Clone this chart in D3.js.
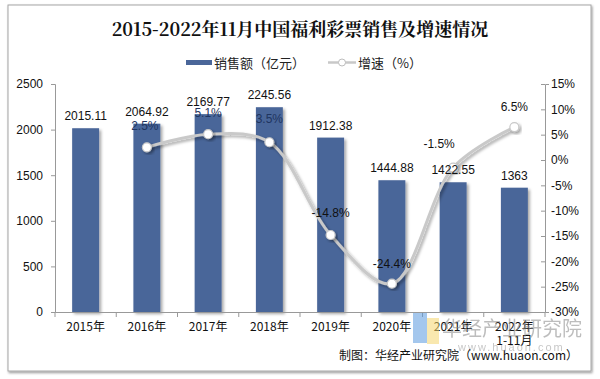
<!DOCTYPE html>
<html><head><meta charset="utf-8">
<script src="https://cdn.jsdelivr.net/npm/d3@7"></script>
<style>body{margin:0;background:#fff}svg{display:block}</style>
</head><body>
<svg id="c" width="600" height="379"></svg>
<script>
const categories = ["2015年","2016年","2017年","2018年","2019年","2020年","2021年","2022年\n1-11月"];
const sales = [2015.11,2064.92,2169.77,2245.56,1912.38,1444.88,1422.55,1363];
const growth = [null,2.5,5.1,3.5,-14.8,-24.4,-1.5,6.5];
const leftTicks = [0,500,1000,1500,2000,2500];
const rightTicks = [15,10,5,0,-5,-10,-15,-20,-25,-30];

const svg = d3.select("#c");
const defs = svg.append("defs");
const sh = defs.append("filter").attr("id","sh").attr("x","-20%").attr("y","-20%").attr("width","150%").attr("height","150%");
sh.append("feDropShadow").attr("dx",2).attr("dy",2).attr("stdDeviation",1.5).attr("flood-color","#000").attr("flood-opacity",0.35);
const fsh = defs.append("filter").attr("id","fsh").attr("x","-5%").attr("y","-5%").attr("width","110%").attr("height","110%");
fsh.append("feDropShadow").attr("dx",1).attr("dy",1.5).attr("stdDeviation",1.2).attr("flood-color","#000").attr("flood-opacity",0.4);

// frame
svg.append("rect").attr("x",8).attr("y",5).attr("width",583).attr("height",366)
  .attr("fill","#fff").attr("stroke","#a6a6a6").attr("stroke-width",1).attr("filter","url(#fsh)");

const L = 55, R = 545, T = 84, B = 312;
const x = d3.scaleBand().domain(categories).range([L,R]).paddingInner(0.56).paddingOuter(0.28);
const xb = d3.scaleBand().domain(categories).range([L,R]);
const y = d3.scaleLinear().domain([0,2500]).range([B,T]);
const y2 = d3.scaleLinear().domain([-30,15]).range([B,T]);

const font = "Arial, 'Liberation Sans', sans-serif";

// title
svg.append("text").attr("x",300).attr("y",36).attr("text-anchor","middle")
  .attr("font-family","'Noto Serif CJK SC','Noto Sans CJK SC',serif").attr("font-weight","bold").attr("font-size",18).attr("fill","#111")
  .text("2015-2022年11月中国福利彩票销售及增速情况");

// legend
const lg = svg.append("g").attr("font-family","'Noto Sans CJK SC',sans-serif").attr("font-size",13).attr("fill","#222");
lg.append("rect").attr("x",186).attr("y",60).attr("width",26).attr("height",5).attr("fill","#4a6699");
lg.append("text").attr("x",214).attr("y",68).text("销售额（亿元）");
lg.append("line").attr("x1",328).attr("x2",356).attr("y1",62.5).attr("y2",62.5).attr("stroke","#c8c8c8").attr("stroke-width",2.5);
lg.append("circle").attr("cx",342).attr("cy",62.5).attr("r",3.5).attr("fill","#fff").attr("stroke","#bdbdbd");
lg.append("text").attr("x",358).attr("y",68).text("增速（%）");

// bars
svg.append("g").selectAll("rect").data(sales).join("rect")
  .attr("x",(d,i)=>x(categories[i])).attr("width",x.bandwidth())
  .attr("y",d=>y(d)).attr("height",d=>B-y(d)).attr("fill","#4a6699").attr("filter","url(#sh)");

// axes
const axL = svg.append("g").attr("transform",`translate(${L},0)`).call(d3.axisLeft(y).tickValues(leftTicks).tickSize(4).tickPadding(8).tickFormat(d3.format("d")));
const axR = svg.append("g").attr("transform",`translate(${R},0)`).call(d3.axisRight(y2).tickValues(rightTicks).tickSize(4).tickPadding(5).tickFormat(d=>d+"%"));
const axB = svg.append("g").attr("transform",`translate(0,${B})`).call(d3.axisBottom(xb).tickSize(0).tickFormat(""));
[axL,axR,axB].forEach(a=>{
  a.selectAll("path").attr("stroke","#999");
  a.selectAll("line").attr("stroke","#999");
  a.selectAll("text").attr("font-family",font).attr("font-size",12).attr("fill","#111");
});
axR.selectAll(".tick line").attr("x2",-4);
axR.selectAll(".tick text").attr("x",6);
// x ticks at band boundaries
svg.append("g").selectAll("line").data(d3.range(categories.length+1)).join("line")
  .attr("x1",i=>L+i*xb.step()).attr("x2",i=>L+i*xb.step()).attr("y1",B).attr("y2",B+5).attr("stroke","#999");

// x labels
const xl = svg.append("g").attr("font-family","'Noto Sans CJK SC',sans-serif").attr("font-size",12).attr("fill","#111");
categories.forEach(c=>{
  const parts = c.split("\n");
  const t = xl.append("text").attr("x",xb(c)+xb.bandwidth()/2).attr("y",331).attr("text-anchor","middle");
  parts.forEach((p,k)=>t.append("tspan").attr("x",xb(c)+xb.bandwidth()/2).attr("dy",k?14:0).text(p));
});

// line
const pts = growth.map((g,i)=>g===null?null:[xb(categories[i])+xb.bandwidth()/2, y2(g), g]).filter(Boolean);
svg.append("path").attr("d",d3.line().curve(d3.curveCatmullRom.alpha(0.5))(pts.map(p=>[p[0],p[1]])))
  .attr("fill","none").attr("stroke","#c9c9c9").attr("stroke-width",3).attr("filter","url(#sh)");
svg.append("g").selectAll("circle").data(pts).join("circle")
  .attr("cx",d=>d[0]).attr("cy",d=>d[1]).attr("r",4.5).attr("fill","#fff").attr("stroke","#c9c9c9").attr("stroke-width",1.2).attr("filter","url(#sh)");
const lblOff = {"2.5":[-2,-17],"5.1":[0,-17],"3.5":[0,-19],"-14.8":[0,-18],"-24.4":[0,-16],"-1.5":[-14,-20],"6.5":[0,-16]};
svg.append("g").selectAll("text").data(pts).join("text")
  .attr("x",d=>d[0]+lblOff[d[2]][0]).attr("y",d=>d[1]+lblOff[d[2]][1])
  .attr("text-anchor","middle").attr("font-family",font).attr("font-size",12)
  .attr("fill",d=>d[2]>0&&d[2]<6?"#1f3560":"#111")
  .text(d=>d[2]+"%");

// bar labels (on top of the line)
svg.append("g").selectAll("text").data(sales).join("text")
  .attr("x",(d,i)=>x(categories[i])+x.bandwidth()/2).attr("y",d=>y(d)-8)
  .attr("text-anchor","middle").attr("font-family",font).attr("font-size",12).attr("fill","#111")
  .text(d=>d);

// watermark
const wm = svg.append("g").attr("opacity",0.55);
wm.append("rect").attr("x",413).attr("y",313).attr("width",14).attr("height",30).attr("fill","#5b9be0");
wm.append("rect").attr("x",427).attr("y",318).attr("width",12).attr("height",26).attr("fill","#f5d76e");
wm.append("text").attr("x",442).attr("y",336).attr("font-family","'Noto Sans CJK SC',sans-serif").attr("font-size",20).attr("fill","#888").text("华经产业研究院");
wm.append("text").attr("x",458).attr("y",351).attr("font-family",font).attr("font-size",11).attr("letter-spacing",2).attr("fill","#999").text("www.huaon.com");

// source
svg.append("text").attr("x",578).attr("y",360).attr("text-anchor","end")
  .attr("font-family","'Noto Sans CJK SC',sans-serif").attr("font-size",12).attr("fill","#111")
  .text("制图：华经产业研究院（www.huaon.com）");
</script>
</body></html>
